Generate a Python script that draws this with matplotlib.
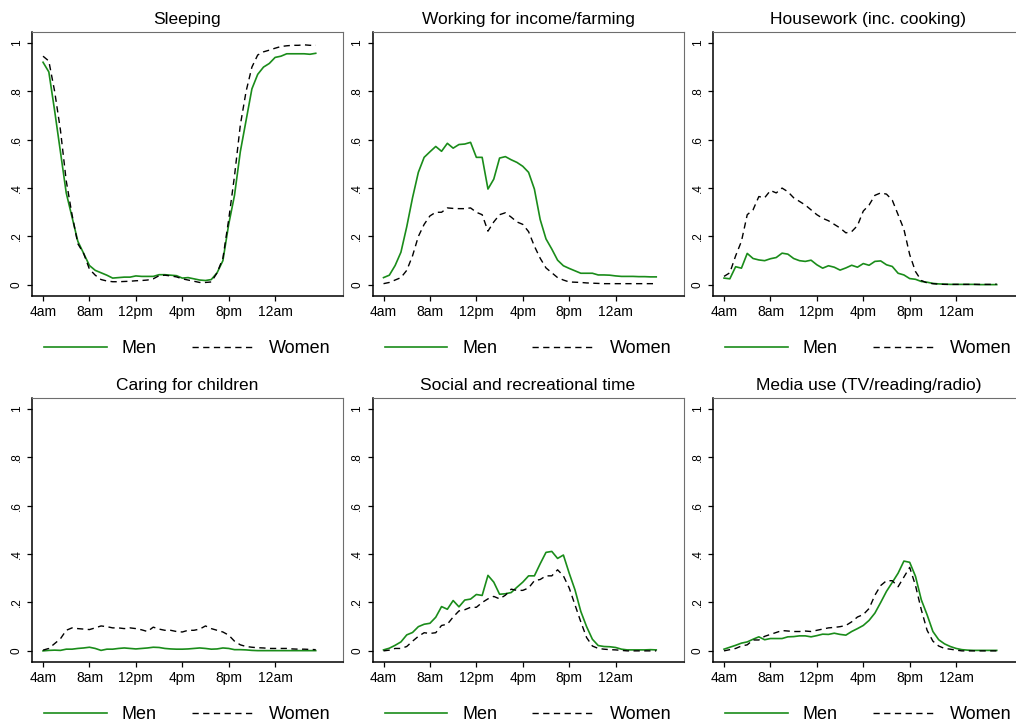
import numpy as np
import matplotlib
matplotlib.use("Agg")
import matplotlib.pyplot as plt

plt.rcParams["font.family"] = ["Liberation Sans", "DejaVu Sans"]

# half-hour slots from 4am to 3:30am
hours = np.arange(4, 28, 0.5)
tick_pos = [4, 8, 12, 16, 20, 24]
tick_labels = ["4am", "8am", "12pm", "4pm", "8pm", "12am"]
ytick_pos = [0, 0.2, 0.4, 0.6, 0.8, 1.0]
ytick_labels = ["0", ".2", ".4", ".6", ".8", "1"]

titles = ["Sleeping", "Working for income/farming", "Housework (inc. cooking)",
          "Caring for children", "Social and recreational time",
          "Media use (TV/reading/radio)"]

sleep_men = [0.92, 0.88, 0.72, 0.55, 0.38, 0.28, 0.18, 0.13, 0.08, 0.06,
             0.05, 0.04, 0.028, 0.03, 0.032, 0.032, 0.037, 0.035, 0.035, 0.035,
             0.042, 0.042, 0.04, 0.038, 0.028, 0.03, 0.025, 0.02, 0.018, 0.022,
             0.05, 0.1, 0.25, 0.37, 0.55, 0.68, 0.81, 0.87, 0.9, 0.915,
             0.94, 0.945, 0.955, 0.955, 0.955, 0.955, 0.953, 0.957]
sleep_women = [0.945, 0.925, 0.80, 0.64, 0.43, 0.29, 0.17, 0.13, 0.065, 0.04,
               0.022, 0.016, 0.013, 0.013, 0.014, 0.015, 0.017, 0.018, 0.02, 0.025,
               0.038, 0.04, 0.037, 0.033, 0.025, 0.02, 0.015, 0.01, 0.01, 0.012,
               0.05, 0.11, 0.27, 0.45, 0.66, 0.8, 0.9, 0.95, 0.963, 0.97,
               0.978, 0.985, 0.988, 0.99, 0.99, 0.992, 0.99, 0.99]

work_men = [0.03, 0.04, 0.08, 0.135, 0.24, 0.36, 0.465, 0.527, 0.55, 0.572,
            0.552, 0.585, 0.565, 0.58, 0.582, 0.589, 0.527, 0.527, 0.396, 0.437,
            0.524, 0.53, 0.517, 0.506, 0.49, 0.465, 0.396, 0.27, 0.19, 0.148,
            0.102, 0.079, 0.068, 0.058, 0.048, 0.048, 0.048, 0.041, 0.041, 0.04,
            0.037, 0.035, 0.035, 0.035, 0.034, 0.034, 0.033, 0.033]
work_women = [0.005, 0.01, 0.02, 0.03, 0.06, 0.12, 0.2, 0.25, 0.285, 0.3,
              0.3, 0.318, 0.316, 0.315, 0.315, 0.318, 0.3, 0.29, 0.222, 0.26,
              0.29, 0.298, 0.28, 0.26, 0.25, 0.22, 0.16, 0.11, 0.07, 0.05,
              0.03, 0.02, 0.012, 0.011, 0.01, 0.008, 0.007, 0.006, 0.005, 0.005,
              0.005, 0.005, 0.005, 0.005, 0.005, 0.005, 0.005, 0.005]

house_men = [0.028, 0.025, 0.075, 0.069, 0.13, 0.109, 0.103, 0.1, 0.108, 0.113,
             0.131, 0.127, 0.109, 0.1, 0.097, 0.102, 0.083, 0.069, 0.079, 0.073,
             0.061, 0.07, 0.081, 0.073, 0.088, 0.081, 0.097, 0.099, 0.083, 0.076,
             0.048, 0.041, 0.026, 0.023, 0.014, 0.011, 0.006, 0.004, 0.003, 0.002,
             0.002, 0.002, 0.002, 0.002, 0.001, 0.001, 0.001, 0.001]
house_women = [0.035, 0.05, 0.12, 0.18, 0.29, 0.31, 0.365, 0.36, 0.39, 0.38,
               0.4, 0.385, 0.36, 0.345, 0.33, 0.31, 0.29, 0.275, 0.265, 0.25,
               0.235, 0.215, 0.22, 0.245, 0.305, 0.33, 0.37, 0.38, 0.375, 0.35,
               0.29, 0.23, 0.125, 0.055, 0.018, 0.008, 0.005, 0.003, 0.002, 0.002,
               0.002, 0.002, 0.002, 0.002, 0.002, 0.002, 0.002, 0.003]

care_men = [0.0, 0.002, 0.003, 0.002, 0.007, 0.007, 0.01, 0.012, 0.015, 0.01,
            0.002, 0.007, 0.007, 0.01, 0.012, 0.01, 0.008, 0.01, 0.012, 0.015,
            0.014, 0.01, 0.008, 0.007, 0.007, 0.008, 0.01, 0.012, 0.01, 0.007,
            0.008, 0.012, 0.01, 0.005, 0.005, 0.004, 0.002, 0.001, 0.001, 0.001,
            0.001, 0.001, 0.001, 0.001, 0.001, 0.001, 0.001, 0.001]
care_women = [0.003, 0.01, 0.03, 0.05, 0.085, 0.095, 0.092, 0.09, 0.088, 0.095,
              0.103, 0.1, 0.095, 0.095, 0.092, 0.095, 0.092, 0.087, 0.08, 0.098,
              0.09, 0.085, 0.085, 0.08, 0.078, 0.085, 0.085, 0.09, 0.103, 0.092,
              0.085, 0.078, 0.065, 0.04, 0.025, 0.018, 0.015, 0.013, 0.012, 0.01,
              0.01, 0.01, 0.01, 0.008, 0.007, 0.007, 0.006, 0.005]

social_men = [0.004, 0.011, 0.023, 0.037, 0.066, 0.076, 0.1, 0.11, 0.114, 0.139,
              0.183, 0.172, 0.208, 0.182, 0.21, 0.214, 0.233, 0.229, 0.312, 0.284,
              0.234, 0.236, 0.241, 0.263, 0.284, 0.31, 0.31, 0.36, 0.407, 0.411,
              0.382, 0.396, 0.321, 0.252, 0.163, 0.1, 0.048, 0.022, 0.018, 0.017,
              0.014, 0.007, 0.004, 0.004, 0.004, 0.004, 0.005, 0.004]
social_women = [0.0, 0.003, 0.01, 0.01, 0.018, 0.04, 0.06, 0.075, 0.072, 0.075,
                0.105, 0.11, 0.14, 0.165, 0.17, 0.18, 0.18, 0.2, 0.215, 0.225,
                0.215, 0.23, 0.255, 0.25, 0.25, 0.26, 0.29, 0.295, 0.31, 0.31,
                0.335, 0.31, 0.26, 0.19, 0.12, 0.055, 0.02, 0.01, 0.007, 0.005,
                0.004, 0.002, 0.0, 0.0, 0.0, 0.0, 0.0, 0.0]

media_men = [0.007, 0.015, 0.023, 0.032, 0.037, 0.048, 0.058, 0.046, 0.051, 0.051,
             0.051, 0.058, 0.059, 0.062, 0.062, 0.058, 0.063, 0.069, 0.068, 0.073,
             0.068, 0.065, 0.08, 0.092, 0.105, 0.126, 0.156, 0.2, 0.246, 0.283,
             0.321, 0.371, 0.366, 0.308, 0.211, 0.149, 0.08, 0.046, 0.029, 0.018,
             0.01, 0.005, 0.003, 0.002, 0.002, 0.002, 0.002, 0.002]
media_women = [0.0, 0.005, 0.01, 0.02, 0.025, 0.045, 0.045, 0.06, 0.068, 0.076,
               0.084, 0.082, 0.08, 0.08, 0.082, 0.08, 0.085, 0.09, 0.095, 0.097,
               0.1, 0.105, 0.12, 0.14, 0.15, 0.175, 0.23, 0.27, 0.29, 0.29,
               0.265, 0.305, 0.345, 0.27, 0.17, 0.085, 0.04, 0.02, 0.01, 0.007,
               0.003, 0.0, 0.0, 0.0, 0.0, 0.0, 0.0, 0.0]

men_series = [sleep_men, work_men, house_men, care_men, social_men, media_men]
women_series = [sleep_women, work_women, house_women, care_women, social_women, media_women]

GREEN = "#1a8c1a"
W, H = 1016, 728

fig = plt.figure(figsize=(W / 100, H / 100), dpi=100)
fig.patch.set_facecolor("white")

col_left = [32, 372.5, 713]
row_top = [32, 398]
box_w, box_h = 311, 264

for i in range(6):
    r, c = divmod(i, 3)
    left = col_left[c] / W
    bottom = (H - row_top[r] - box_h) / H
    ax = fig.add_axes([left, bottom, box_w / W, box_h / H])

    ax.plot(hours, men_series[i], color=GREEN, lw=1.2, label="Men")
    ax.plot(hours, women_series[i], color="black", lw=1.0,
            linestyle=(0, (4.5, 3.2)), label="Women")

    ax.set_xlim(3.05, 29.85)
    ax.set_ylim(-0.046, 1.045)
    ax.set_xticks(tick_pos)
    ax.set_xticklabels(tick_labels, fontsize=10)
    ax.set_yticks(ytick_pos)
    ax.set_yticklabels(ytick_labels, fontsize=8.5, rotation=90, va="center")
    ax.tick_params(axis="both", length=3.6, width=0.9, pad=3, color="black")

    for s in ["left", "bottom"]:
        ax.spines[s].set_color("black")
        ax.spines[s].set_linewidth(1.1)
    for s in ["top", "right"]:
        ax.spines[s].set_color("#6e6e6e")
        ax.spines[s].set_linewidth(0.8)

    ax.set_title(titles[i], fontsize=12.5, pad=6)
    ax.legend(loc="center", bbox_to_anchor=(0.5, -0.2), ncol=2, frameon=False,
              fontsize=13, handlelength=3.45, handletextpad=0.83,
              columnspacing=1.95)

fig.savefig("out.png", dpi=100, facecolor="white")
